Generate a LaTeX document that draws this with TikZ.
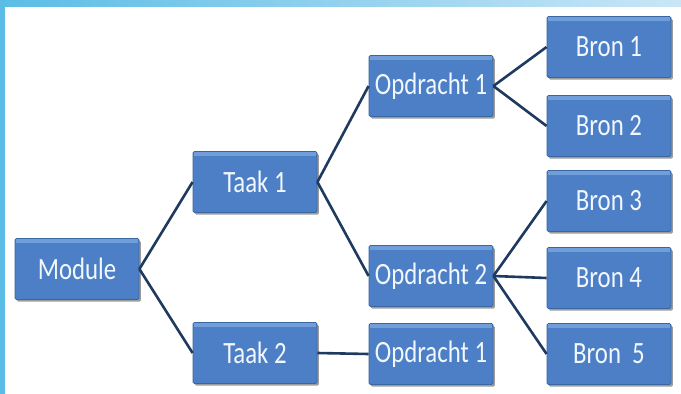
\documentclass[tikz,border=0pt]{standalone}
\usepackage{fontspec}
\newfontfamily\boxfont[FakeStretch=0.8]{Carlito}
\usetikzlibrary{shadows}
\definecolor{boxfill}{HTML}{4C7FC6}
\definecolor{boxtop}{HTML}{7AA6E0}
\definecolor{boxedge}{HTML}{3A679F}
\definecolor{linecol}{HTML}{1F3A5F}
\definecolor{frameblue}{HTML}{5BBDE6}
\definecolor{framelight}{HTML}{C9E6F6}
\definecolor{boxtext}{HTML}{F2F7FD}
\tikzset{
  box/.style={rectangle, minimum width=124pt, minimum height=61pt, inner sep=0pt,
    fill=boxfill, draw=boxedge, line width=0.8pt, rounded corners=1.5pt,
    drop shadow={opacity=0.55, shadow xshift=1.8pt, shadow yshift=-2.2pt, fill=black!70},
    text=boxtext, font=\boxfont\fontsize{31}{31}\selectfont},
  conn/.style={draw=linecol, line width=2.6pt},
}
\begin{document}
\begin{tikzpicture}[x=1pt,y=-1pt]
\useasboundingbox (0,0) rectangle (681,394);
\fill[white] (0,0) rectangle (681,394);
\shade[left color=frameblue, right color=framelight] (0,0) rectangle (681,6);
\fill[frameblue] (0,0) rectangle (5,394);
% nodes
\node[box] (module) at (77,269) {Module};
\node[box] (taak1) at (255,182) {Taak 1};
\node[box] (taak2) at (255,353) {Taak 2};
\node[box] (opd1) at (431,86) {Opdracht 1};
\node[box] (opd2) at (431,276) {Opdracht 2};
\node[box] (opd1b) at (431,354) {Opdracht 1};
\node[box] (bron1) at (609,47) {Bron 1};
\node[box] (bron2) at (609,126) {Bron 2};
\node[box] (bron3) at (609,201) {Bron 3};
\node[box] (bron4) at (609,278) {Bron 4};
\node[box] (bron5) at (609,354) {Bron\ \ 5};
% top highlights
\foreach \n in {module,taak1,taak2,opd1,opd2,opd1b,bron1,bron2,bron3,bron4,bron5}{
  \fill[boxtop, opacity=0.8] ([xshift=1pt,yshift=-1pt]\n.north west) rectangle ([xshift=-1pt,yshift=-5pt]\n.north east);
}
% connectors
\draw[conn] (module.east) -- (taak1.west);
\draw[conn] (module.east) -- (taak2.west);
\draw[conn] (taak1.east) -- (opd1.west);
\draw[conn] (taak1.east) -- (opd2.west);
\draw[conn] (taak2.east) -- (opd1b.west);
\draw[conn] (opd1.east) -- (bron1.west);
\draw[conn] (opd1.east) -- (bron2.west);
\draw[conn] (opd2.east) -- (bron3.west);
\draw[conn] (opd2.east) -- (bron4.west);
\draw[conn] (opd2.east) -- (bron5.west);
\end{tikzpicture}
\end{document}
